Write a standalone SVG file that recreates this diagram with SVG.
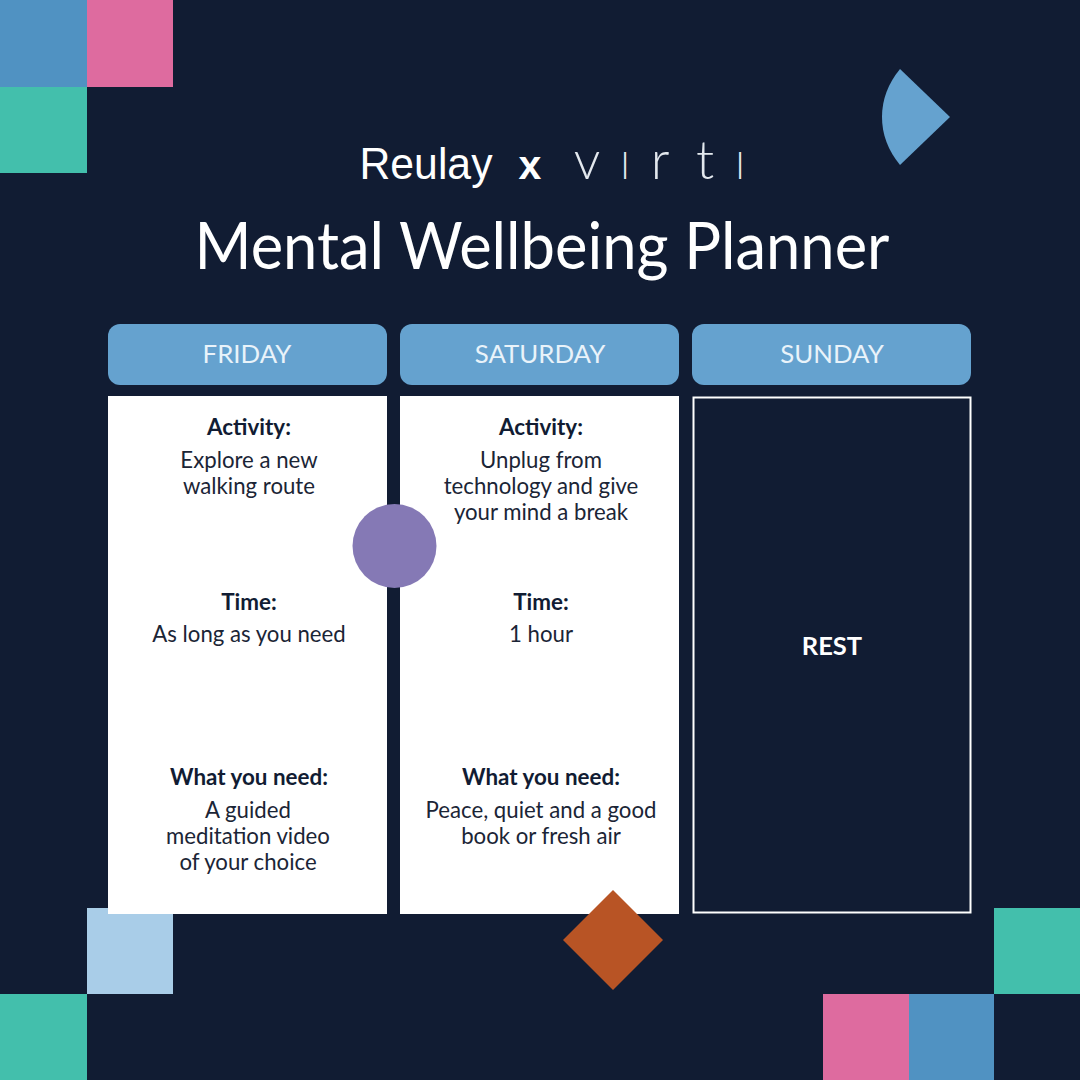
<svg xmlns="http://www.w3.org/2000/svg" width="1080" height="1080" viewBox="0 0 1080 1080">
<style>
text{font-family:"Lato","Noto Sans","Liberation Sans",sans-serif;text-anchor:middle}
.h{font-size:25.8px;fill:#e9f3fa}
.b{font-size:22.4px;font-weight:700;fill:#111c33}
.t{font-size:22.2px;fill:#1b2536}
.hd{fill:#65a2cf}
.card{fill:#fff}
.sc{font-variant:small-caps}
</style>
<rect width="1080" height="1080" fill="#111c33"/>
<g id="decor">
<rect x="0" y="0" width="87" height="87" fill="#5092c2"/>
<rect x="87" y="0" width="86" height="87" fill="#de6b9f"/>
<rect x="0" y="87" width="87" height="86" fill="#43bfac"/>
<path d="M900 69L950 117L900 165Q882 143 882 117Q882 91 900 69Z" fill="#65a2cf"/>
<rect x="87" y="908" width="86" height="86" fill="#a9cde8"/>
<rect x="0" y="994" width="87" height="86" fill="#43bfac"/>
<rect x="994" y="908" width="86" height="86" fill="#43bfac"/>
<rect x="823" y="994" width="86" height="86" fill="#de6b9f"/>
<rect x="909" y="994" width="85" height="86" fill="#5092c2"/>
</g>
<g id="logo">
<text x="426" y="179" style="font-family:'Liberation Sans',sans-serif;font-size:44px" fill="#fff" textLength="133" lengthAdjust="spacingAndGlyphs">Reulay</text>
<text x="530" y="179" style="font-family:'Liberation Sans',sans-serif;font-size:41px;font-weight:700" fill="#fff">x</text>
<text y="179" style="font-size:53px;font-weight:300" fill="#e3e8ee"><tspan x="587">v</tspan><tspan class="sc" x="625">i</tspan><tspan x="660">r</tspan><tspan x="705">t</tspan><tspan class="sc" x="740">i</tspan></text>
</g>
<text id="title" x="542" y="269" font-size="66" fill="#fff" textLength="695" lengthAdjust="spacingAndGlyphs">Mental Wellbeing Planner</text>
<g id="friday">
<rect class="hd" x="108" y="324" width="279" height="61" rx="12"/>
<text class="h" x="247" y="363">FRIDAY</text>
<rect class="card" x="108" y="396" width="279" height="518"/>
<text class="b" x="249" y="435">Activity:</text>
<text class="t" x="249" y="468">Explore a new</text>
<text class="t" x="249" y="494">walking route</text>
<text class="b" x="249" y="610">Time:</text>
<text class="t" x="249" y="642">As long as you need</text>
<text class="b" x="249" y="785">What you need:</text>
<text class="t" x="248" y="818">A guided</text>
<text class="t" x="248" y="844">meditation video</text>
<text class="t" x="248" y="870">of your choice</text>
</g>
<g id="saturday">
<rect class="hd" x="400" y="324" width="279" height="61" rx="12"/>
<text class="h" x="540" y="363">SATURDAY</text>
<rect class="card" x="400" y="396" width="279" height="518"/>
<text class="b" x="541" y="435">Activity:</text>
<text class="t" x="541" y="468">Unplug from</text>
<text class="t" x="541" y="494">technology and give</text>
<text class="t" x="541" y="520">your mind a break</text>
<text class="b" x="541" y="610">Time:</text>
<text class="t" x="541" y="642">1 hour</text>
<text class="b" x="541" y="785">What you need:</text>
<text class="t" x="541" y="818">Peace, quiet and a good</text>
<text class="t" x="541" y="844">book or fresh air</text>
</g>
<g id="sunday">
<rect class="hd" x="692" y="324" width="279" height="61" rx="12"/>
<text class="h" x="832" y="363">SUNDAY</text>
<rect x="693.500" y="397.500" width="277" height="515" fill="none" stroke="#fff" stroke-width="2"/>
<text x="832" y="655" font-size="25.500" font-weight="700" fill="#fff">REST</text>
</g>
<g id="shapes">
<circle cx="394.500" cy="546" r="42" fill="#8579b5"/>
<path d="M613 890L663 940L613 990L563 940Z" fill="#b85425"/>
</g>
<g id="connectors"/>
</svg>
